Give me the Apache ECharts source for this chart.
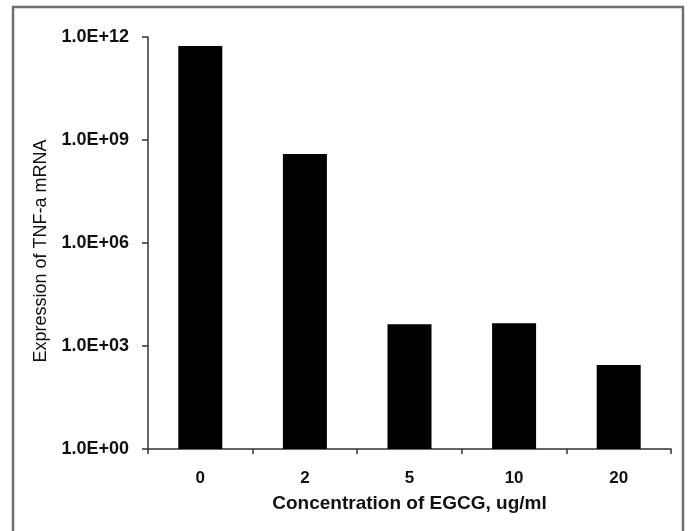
<!DOCTYPE html>
<html>
<head>
<meta charset="utf-8">
<script src="https://cdn.jsdelivr.net/npm/echarts@6/dist/echarts.min.js"></script>
<style>html,body{margin:0;padding:0;background:#fff;}#c{width:688px;height:531px;}</style>
</head>
<body>
<div id="c"></div>
<script>
const categories = ['0', '2', '5', '10', '20'];
const values = [5.5e11, 3.9e8, 4.3e3, 4.6e3, 280];
const yTicks = [1, 1e3, 1e6, 1e9, 1e12];

function fmt(v) {
  const e = Math.round(Math.log10(v));
  return '1.0E+' + (e < 10 ? '0' + e : '' + e);
}

const chart = echarts.init(document.getElementById('c'), null, {renderer: 'canvas'});
chart.setOption({
  animation: false,
  backgroundColor: '#fff',
  graphic: [{
    type: 'rect',
    shape: {x: 13, y: 7, width: 670, height: 540},
    style: {fill: 'none', stroke: '#6e6e6e', lineWidth: 2.5},
    silent: true
  }],
  grid: {left: 148, right: 17, top: 37, bottom: 82},
  xAxis: {
    type: 'category',
    data: categories,
    name: 'Concentration of EGCG, ug/ml',
    nameLocation: 'middle',
    nameGap: 45,
    nameTextStyle: {fontFamily: 'Liberation Sans', fontSize: 19, fontWeight: 'bold', color: '#111'},
    axisLine: {lineStyle: {color: '#333', width: 1.5}},
    axisTick: {show: true, length: 5, alignWithLabel: false, lineStyle: {color: '#333', width: 1.5}},
    axisLabel: {margin: 21, fontFamily: 'Liberation Sans', fontSize: 17, fontWeight: 'bold', color: '#111'},
    splitLine: {show: false}
  },
  yAxis: {
    type: 'log',
    logBase: 10,
    min: 1,
    max: 1e12,
    interval: 3,
    name: 'Expression of TNF-a mRNA',
    nameLocation: 'middle',
    nameGap: 98,
    nameTextStyle: {fontFamily: 'Liberation Sans', fontSize: 18, color: '#111', padding: [0, 16, 0, 0]},
    axisLine: {show: true, lineStyle: {color: '#333', width: 1.5}},
    axisTick: {show: true, length: 6, lineStyle: {color: '#333', width: 1.5}},
    minorTick: {show: false},
    axisLabel: {
      margin: 19,
      fontFamily: 'Liberation Sans', fontSize: 18, fontWeight: 'bold', color: '#111',
      formatter: function (v) { return fmt(v); }
    },
    splitLine: {show: false}
  },
  series: [{
    type: 'bar',
    data: values,
    barWidth: 44,
    itemStyle: {color: '#000'}
  }]
});
</script>
</body>
</html>
